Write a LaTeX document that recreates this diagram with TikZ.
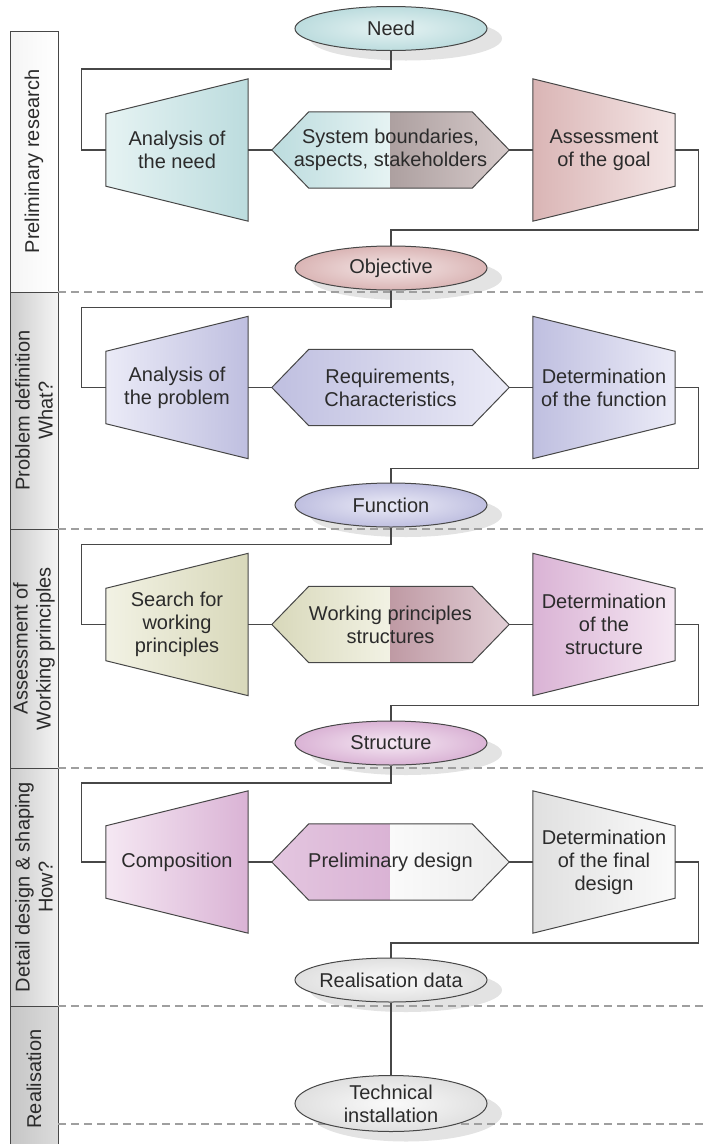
\documentclass[tikz,border=0pt]{standalone}
\usepackage{fontspec}
\setmainfont{Liberation Sans}
\usetikzlibrary{shapes.geometric,backgrounds,calc}

\definecolor{txtgrey}{HTML}{2B2B2B}
\definecolor{linegrey}{HTML}{474747}
\definecolor{cyanL}{HTML}{E6F3F3}
\definecolor{cyanD}{HTML}{BCDCDE}
\definecolor{pinkL}{HTML}{F4E6E6}
\definecolor{pinkD}{HTML}{DAB5B5}
\definecolor{lavL}{HTML}{EBEBF7}
\definecolor{lavD}{HTML}{BFBFE0}
\definecolor{beigeL}{HTML}{F2F2E4}
\definecolor{beigeD}{HTML}{D8D8BA}
\definecolor{mauveL}{HTML}{F5E8F3}
\definecolor{mauveD}{HTML}{DAB3D5}
\definecolor{paleL}{HTML}{FAFAFA}
\definecolor{paleD}{HTML}{E0E0E0}
\definecolor{taupeL}{HTML}{D6CACA}
\definecolor{taupeD}{HTML}{ADA0A0}
\definecolor{roseL}{HTML}{E2CFD6}
\definecolor{roseD}{HTML}{BF9AA4}

% funnel shapes round a step node (long side right / long side left)
\newcommand{\funnelR}[1]{(#1.north east) -- (#1.south east) -- ($(#1.south west)+(0,-35)$) -- ($(#1.north west)+(0,35)$) -- cycle}
\newcommand{\funnelL}[1]{(#1.north west) -- (#1.south west) -- ($(#1.south east)+(0,-35)$) -- ($(#1.north east)+(0,35)$) -- cycle}
% hexagon round a hex node
\newcommand{\hexpath}[1]{(#1.west) -- ($(#1.north west)+(37,0)$) -- ($(#1.north east)+(-37,0)$) -- (#1.east) -- ($(#1.south east)+(-37,0)$) -- ($(#1.south west)+(37,0)$) -- cycle}

\tikzset{
  conn/.style={draw=linegrey, line width=1.2pt},
  outline/.style={draw=linegrey, line width=1pt},
  stepbox/.style={minimum width=142pt, minimum height=142pt, inner sep=0pt, align=center},
  hexbox/.style={minimum width=237pt, minimum height=76pt, inner sep=0pt, align=center},
  oval/.style={ellipse, outline, minimum width=192pt, minimum height=44pt, inner sep=0pt},
  lane/.style={rotate=90, align=center},
  sepline/.style={draw=gray!75, line width=1.2pt, dash pattern=on 8pt off 5pt},
}

\begin{document}
\begin{tikzpicture}[x=1pt, y=-1pt, font=\fontsize{20}{23}\selectfont, text=txtgrey]
		\useasboundingbox (0,0) rectangle (707,1144);
		%lanes
		\node[lane] (lblPrelim) at (34,161.5) {Preliminary research};
		\node[lane] (lblProblem) at (34,410.5) {Problem definition\\What?};
		\node[lane] (lblAssess) at (34,648.5) {Assessment of\\Working principles};
		\node[lane] (lblDetail) at (34,887) {Detail design \& shaping\\How?};
		\node[lane] (lblReal) at (34,1079) {Realisation};
		%ovals
		\node[oval, inner color=cyanL, outer color=cyanD, label=center:Need] (need) at (391,28.5) {};
		\node[oval, inner color=pinkL, outer color=pinkD, label=center:Objective] (objective) at (391,268) {};
		\node[oval, inner color=lavL, outer color=lavD, label=center:Function] (function) at (391,505) {};
		\node[oval, inner color=mauveL, outer color=mauveD, label=center:Structure] (structure) at (391,743) {};
		\node[oval, inner color=paleL, outer color=paleD, label=center:Realisation data] (realData) at (391,980) {};
		\node[oval, minimum height=56pt, inner color=paleL, outer color=paleD, label={[align=center]center:Technical\\installation}] (techInst) at (391,1103.5) {};
		%steps
		\node[stepbox] (anaNeed) at (177,150) {Analysis of\\the need};
		\node[hexbox] (sysBound) at (390.5,150) {System boundaries,\\aspects, stakeholders};
		\node[stepbox] (assGoal) at (604,150) {Assessment\\of the goal};
		\node[stepbox] (anaProb) at (177,387.5) {Analysis of\\the problem};
		\node[hexbox] (requirements) at (390.5,387.5) {Requirements,\\Characteristics};
		\node[stepbox] (detFunc) at (604,387.5) {Determination\\of the function};
		\node[stepbox] (searchWP) at (177,624.5) {Search for\\working\\principles};
		\node[hexbox] (wpStruct) at (390.5,624.5) {Working principles\\structures};
		\node[stepbox] (detStruct) at (604,624.5) {Determination\\of the\\structure};
		\node[stepbox] (composition) at (177,862) {Composition};
		\node[hexbox] (prelimDesign) at (390.5,862) {Preliminary design};
		\node[stepbox] (detFinal) at (604,862) {Determination\\of the final\\design};

		\begin{scope}[on background layer]
			%lane bar
			\shade[left color=gray!8, right color=white] (10,31) rectangle (58,292);
			\shade[left color=gray!40, right color=gray!8] (10,292) rectangle (58,529);
			\shade[left color=gray!40, right color=gray!8] (10,529) rectangle (58,768);
			\shade[left color=gray!40, right color=gray!12] (10,768) rectangle (58,1006);
			\shade[left color=gray!45, right color=gray!28] (10,1006) rectangle (58,1150);
			\draw[outline] (10,1150) -- (10,31) -- (58,31) -- (58,1150);
			\foreach \yy in {292,529,768,1006}
				\draw[outline] (10,\yy) -- (58,\yy);
			%shadows
			\foreach \ov in {need,objective,function,structure,realData}
				\fill[gray!22] ($(\ov)+(15,10)$) ellipse [x radius=96pt, y radius=22pt];
			\fill[gray!22] ($(techInst)+(15,10)$) ellipse [x radius=96pt, y radius=28pt];
			%separators
			\foreach \yy in {292,529,768,1006,1124}
				\draw[sepline] (58,\yy) -- (707,\yy);
			%funnels
			\shadedraw[outline, left color=cyanL, right color=cyanD] \funnelR{anaNeed};
			\shadedraw[outline, left color=pinkD, right color=pinkL] \funnelL{assGoal};
			\shadedraw[outline, left color=lavL, right color=lavD] \funnelR{anaProb};
			\shadedraw[outline, left color=lavD, right color=lavL] \funnelL{detFunc};
			\shadedraw[outline, left color=beigeL, right color=beigeD] \funnelR{searchWP};
			\shadedraw[outline, left color=mauveD, right color=mauveL] \funnelL{detStruct};
			\shadedraw[outline, left color=mauveL, right color=mauveD] \funnelR{composition};
			\shadedraw[outline, left color=paleD, right color=paleL] \funnelL{detFinal};
			%hexagons
			\begin{scope}
				\clip \hexpath{sysBound};
				\shade[left color=cyanD, right color=cyanL] (sysBound.north west) rectangle (sysBound.south);
				\shade[left color=taupeD, right color=taupeL] (sysBound.north) rectangle (sysBound.south east);
			\end{scope}
			\draw[outline] \hexpath{sysBound};
			\shadedraw[outline, left color=lavD, right color=lavL] \hexpath{requirements};
			\begin{scope}
				\clip \hexpath{wpStruct};
				\shade[left color=beigeD, right color=beigeL] (wpStruct.north west) rectangle (wpStruct.south);
				\shade[left color=roseD, right color=roseL] (wpStruct.north) rectangle (wpStruct.south east);
			\end{scope}
			\draw[outline] \hexpath{wpStruct};
			\begin{scope}
				\clip \hexpath{prelimDesign};
				\shade[left color=mauveD!75, right color=mauveD] (prelimDesign.north west) rectangle (prelimDesign.south);
				\shade[left color=paleL, right color=paleD!60] (prelimDesign.north) rectangle (prelimDesign.south east);
			\end{scope}
			\draw[outline] \hexpath{prelimDesign};
		\end{scope}

		%connectors
		\draw[conn] (need.south) |- ($(anaNeed.west)+(-24,-81)$) |- (anaNeed.west);
		\draw[conn] (anaNeed.east) -- (sysBound.west);
		\draw[conn] (sysBound.east) -- (assGoal.west);
		\draw[conn] (assGoal.east) -- ++(23,0) -- ++(0,80) -| (objective.north);
		\draw[conn] (objective.south) |- ($(anaProb.west)+(-24,-80)$) |- (anaProb.west);
		\draw[conn] (anaProb.east) -- (requirements.west);
		\draw[conn] (requirements.east) -- (detFunc.west);
		\draw[conn] (detFunc.east) -- ++(23,0) -- ++(0,81) -| (function.north);
		\draw[conn] (function.south) |- ($(searchWP.west)+(-24,-80)$) |- (searchWP.west);
		\draw[conn] (searchWP.east) -- (wpStruct.west);
		\draw[conn] (wpStruct.east) -- (detStruct.west);
		\draw[conn] (detStruct.east) -- ++(23,0) -- ++(0,81) -| (structure.north);
		\draw[conn] (structure.south) |- ($(composition.west)+(-24,-79)$) |- (composition.west);
		\draw[conn] (composition.east) -- (prelimDesign.west);
		\draw[conn] (prelimDesign.east) -- (detFinal.west);
		\draw[conn] (detFinal.east) -- ++(23,0) -- ++(0,81) -| (realData.north);
		\draw[conn] (realData.south) -- (techInst.north);
	\end{tikzpicture}
\end{document}
